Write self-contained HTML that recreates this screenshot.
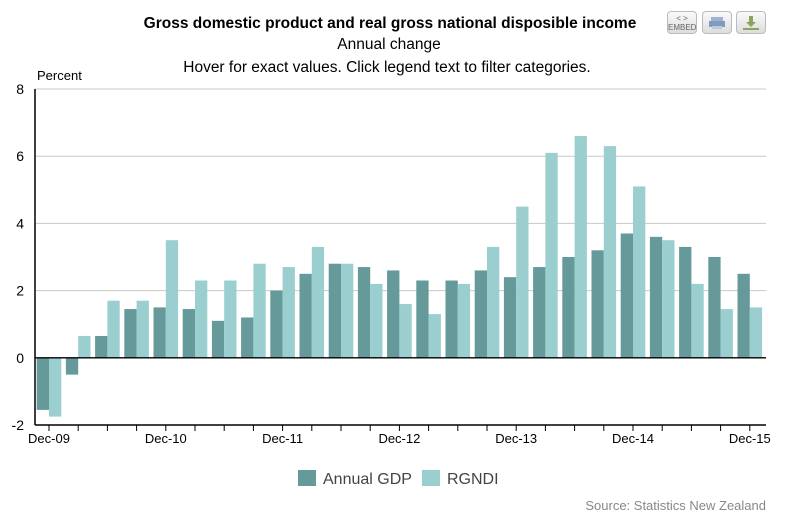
<!DOCTYPE html>
<html><head><meta charset="utf-8"><style>
body{margin:0;background:#fff;font-family:"Liberation Sans",Arial,sans-serif}
#wrap{position:relative;width:796px;height:515px;overflow:hidden}
.btn{position:absolute;top:11px;width:30px;height:23px;border:1px solid #bbb;border-radius:4px;background:linear-gradient(#fafafa,#ddd);box-sizing:border-box;font-size:8px;color:#666;text-align:center}
</style></head><body>
<div id="wrap">
<svg id="chart" width="796" height="515" style="position:absolute;left:0;top:0"></svg>
<div class="btn" style="left:667px;line-height:9px;padding-top:2px">&lt; &gt;<br>EMBED</div>
<div class="btn" style="left:702px"><svg width="28" height="21"><rect x="8" y="5" width="12" height="4" fill="#9fb3cc"/><rect x="6" y="9" width="16" height="6" fill="#7f9cc0"/><rect x="9" y="14" width="10" height="3" fill="#bcd"/></svg></div>
<div class="btn" style="left:736px"><svg width="28" height="21"><path d="M12 4h4v6h3l-5 5-5-5h3z" fill="#8aa65a"/><rect x="6" y="16" width="16" height="2" fill="#8aa65a"/></svg></div>
</div>
<script>
const categories=["Dec-09","Mar-10","Jun-10","Sep-10","Dec-10","Mar-11","Jun-11","Sep-11","Dec-11","Mar-12","Jun-12","Sep-12","Dec-12","Mar-13","Jun-13","Sep-13","Dec-13","Mar-14","Jun-14","Sep-14","Dec-14","Mar-15","Jun-15","Sep-15","Dec-15"];
const gdpValues=[-1.55,-0.5,0.65,1.45,1.5,1.45,1.1,1.2,2.0,2.5,2.8,2.7,2.6,2.3,2.3,2.6,2.4,2.7,3.0,3.2,3.7,3.6,3.3,3.0,2.5];
const rgndiValues=[-1.75,0.65,1.7,1.7,3.5,2.3,2.3,2.8,2.7,3.3,2.8,2.2,1.6,1.3,2.2,3.3,4.5,6.1,6.6,6.3,5.1,3.5,2.2,1.45,1.5];
const yTicks=[-2,0,2,4,6,8];
const seriesNames=["Annual GDP","RGNDI"];
const colors=["#65999a","#9bcfcf"];
const svg=document.getElementById('chart');const NS="http://www.w3.org/2000/svg";
function mk(t,a,txt){const e=document.createElementNS(NS,t);for(const k in a)e.setAttribute(k,a[k]);if(txt!==undefined)e.textContent=txt;svg.appendChild(e);return e;}
const pL=35,pR=766,pT=89,pB=425;
const yS=v=>pB-(v+2)/10*(pB-pT);
const step=29.2;const xc=i=>49+i*step;
function txt(x,yy,s,opt,name){const e=mk('text',Object.assign({x:x,y:yy,'font-size':14,fill:'#000'},opt),s);

return e;}
txt(390,28,"Gross domestic product and real gross national disposible income",{'text-anchor':'middle','font-weight':'bold','font-size':15.5},'chart-title');
txt(389,49,"Annual change",{'text-anchor':'middle','font-size':15.5},'chart-subtitle');
txt(387,72,"Hover for exact values. Click legend text to filter categories.",{'text-anchor':'middle','font-size':15.5},'chart-instructions');
txt(37,80,"Percent",{'font-size':13},'y-axis-title');
yTicks.forEach(v=>{
 if(v!==0&&v!==-2){const l=mk('line',{x1:pL,x2:pR,y1:yS(v),y2:yS(v),stroke:'#c8c8c8','stroke-width':1});
 
 }
 txt(24,yS(v)+5,String(v),{'text-anchor':'end','font-size':14},'y-tick-label');
});
categories.forEach((c,i)=>{
 const b1=mk('rect',{x:xc(i)-12.3,y:Math.min(yS(0),yS(gdpValues[i])),width:12.3,height:Math.abs(yS(gdpValues[i])-yS(0)),fill:colors[0]});
 
 
 const b2=mk('rect',{x:xc(i),y:Math.min(yS(0),yS(rgndiValues[i])),width:12.3,height:Math.abs(yS(rgndiValues[i])-yS(0)),fill:colors[1]});
 
 
 const tk=mk('line',{x1:xc(i),x2:xc(i),y1:pB,y2:pB+6,stroke:'#000'});
 
 
 if(i%4===0)txt(xc(i),443,c,{'text-anchor':'middle','font-size':13},'x-tick-label');
});
const z=mk('line',{x1:pL,x2:pR,y1:yS(0),y2:yS(0),stroke:'#000','stroke-width':1.3});


const ya=mk('line',{x1:pL,x2:pL,y1:pT,y2:pB,stroke:'#000','stroke-width':1.5});


const xa=mk('line',{x1:pL,x2:pR,y1:pB,y2:pB,stroke:'#000','stroke-width':1.5});


[[298,seriesNames[0],colors[0]],[422,seriesNames[1],colors[1]]].forEach(d=>{
 const r=mk('rect',{x:d[0],y:470,width:18,height:16,fill:d[2]});
 
 
 txt(d[0]+25,484,d[1],{'font-size':16,fill:'#444'},'legend-entry');
});
txt(766,510,"Source: Statistics New Zealand",{'text-anchor':'end','font-size':13,fill:'#888'},'source-note');
</script>
</body></html>
